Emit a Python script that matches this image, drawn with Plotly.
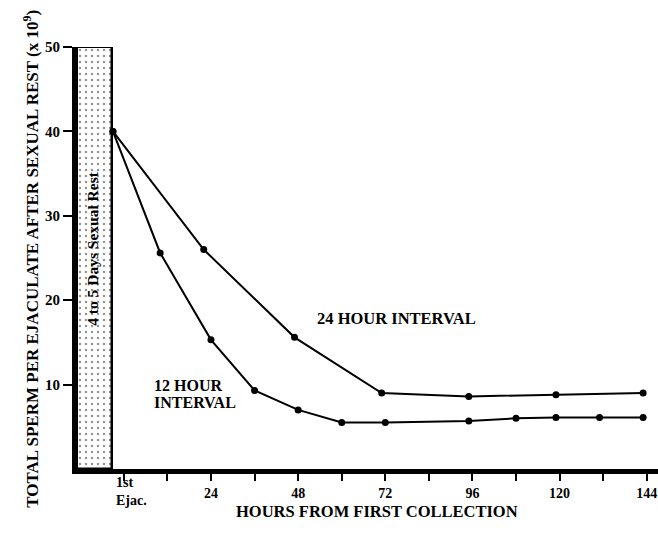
import plotly.graph_objects as go

# ---- data ----
hours_24 = [-3, 22, 47, 71, 95, 119, 143]
sperm_24 = [40, 26.0, 15.6, 9.0, 8.6, 8.8, 9.0]

hours_12 = [-3, 10, 24, 36, 48, 60, 72, 95, 108, 119, 131, 143]
sperm_12 = [40, 25.6, 15.3, 9.3, 7.0, 5.5, 5.5, 5.7, 6.0, 6.1, 6.1, 6.1]

rest_x = [-8.1]        # centre of the sexual-rest period bar (hours)
rest_width = [9.6]
rest_height = [50]

x_tickvals = [0, 12, 24, 36, 48, 60, 72, 84, 96, 108, 120, 132, 144]
x_ticktext = ["", "", "24", "", "48", "", "72", "", "96", "", "120", "", "144"]
y_tickvals = [10, 20, 30, 40, 50]

SERIF = "Liberation Serif"


def f(size):
    return dict(family=SERIF, size=size, color="black", weight="bold")


W, H = 658, 537
L, T = 77, 47
BASE = 469.5
PLOT_W = W - L
PLOT_H = BASE - T
X0 = -12.9
PX_PER_H = 581 / 160.0
X1 = X0 + PLOT_W / PX_PER_H

fig = go.Figure()

# Sexual rest bar (stippled)
fig.add_trace(go.Bar(
    x=rest_x, y=rest_height, width=rest_width, base=0,
    marker=dict(color="white",
                line=dict(color="black", width=2.5),
                pattern=dict(shape=".", fgcolor="#222", bgcolor="white",
                             size=6, solidity=0.12)),
    showlegend=False, hoverinfo="skip"))

fig.add_trace(go.Scatter(
    x=hours_24, y=sperm_24, mode="lines+markers",
    line=dict(color="black", width=2),
    marker=dict(color="black", size=7),
    showlegend=False, name="24 hour interval"))

fig.add_trace(go.Scatter(
    x=hours_12, y=sperm_12, mode="lines+markers",
    line=dict(color="black", width=2),
    marker=dict(color="black", size=7),
    showlegend=False, name="12 hour interval"))


def px_x(p):
    return (p - L) / PLOT_W


def px_y(p):
    return (BASE - p) / PLOT_H


annotations = [
    dict(x=-8.5, y=26.2, xref="x", yref="y", text="4 to 5 Days Sexual Rest",
         textangle=-90, showarrow=False, font=f(15.5)),
    dict(x=px_x(397), y=px_y(330), xref="paper", yref="paper", text="24 HOUR INTERVAL",
         showarrow=False, font=f(16.5)),
    dict(x=px_x(152), y=px_y(396), xref="paper", yref="paper", text="12 HOUR",
         xanchor="left", showarrow=False, font=f(16)),
    dict(x=px_x(152), y=px_y(413), xref="paper", yref="paper", text="INTERVAL",
         xanchor="left", showarrow=False, font=f(16)),
    dict(x=px_x(114), y=px_y(493), xref="paper", yref="paper", text="1st",
         xanchor="left", showarrow=False, font=f(14)),
    dict(x=px_x(114), y=px_y(511), xref="paper", yref="paper", text="Ejac.",
         xanchor="left", showarrow=False, font=f(14)),
    dict(x=px_x(377), y=px_y(524), xref="paper", yref="paper",
         text="HOURS FROM FIRST COLLECTION", showarrow=False, font=f(16.5)),
    dict(x=px_x(18), y=px_y(259), xref="paper", yref="paper",
         text="TOTAL SPERM PER EJACULATE AFTER SEXUAL REST (x 10<sup>9</sup>)",
         textangle=-90, showarrow=False, font=f(17)),
]

fig.update_layout(
    width=W, height=H,
    margin=dict(l=L, r=0, t=T, b=H - BASE, pad=0),
    paper_bgcolor="white", plot_bgcolor="white",
    font=dict(family=SERIF, size=14, color="black"),
    annotations=annotations,
    bargap=0,
)

fig.update_xaxes(
    range=[X0, X1], showgrid=False, zeroline=False, automargin=False,
    showline=True, linecolor="black", linewidth=5,
    ticks="outside", ticklen=7, tickwidth=2, tickcolor="black",
    tickvals=x_tickvals, ticktext=x_ticktext, ticklabeloverflow="allow",
    tickfont=f(14),
)
fig.update_yaxes(
    range=[0, 50], showgrid=False, zeroline=False, automargin=False,
    showline=True, linecolor="black", linewidth=5,
    ticks="outside", ticklen=9, tickwidth=2, tickcolor="black",
    tickvals=y_tickvals, ticktext=[str(v) for v in y_tickvals],
    tickfont=f(15),
)

# remove the default page margin so the figure fills the window exactly
fig.write_html(
    "out.html",
    config={"displayModeBar": False},
    post_script="document.body.style.margin='0';document.body.style.overflow='hidden';",
)
